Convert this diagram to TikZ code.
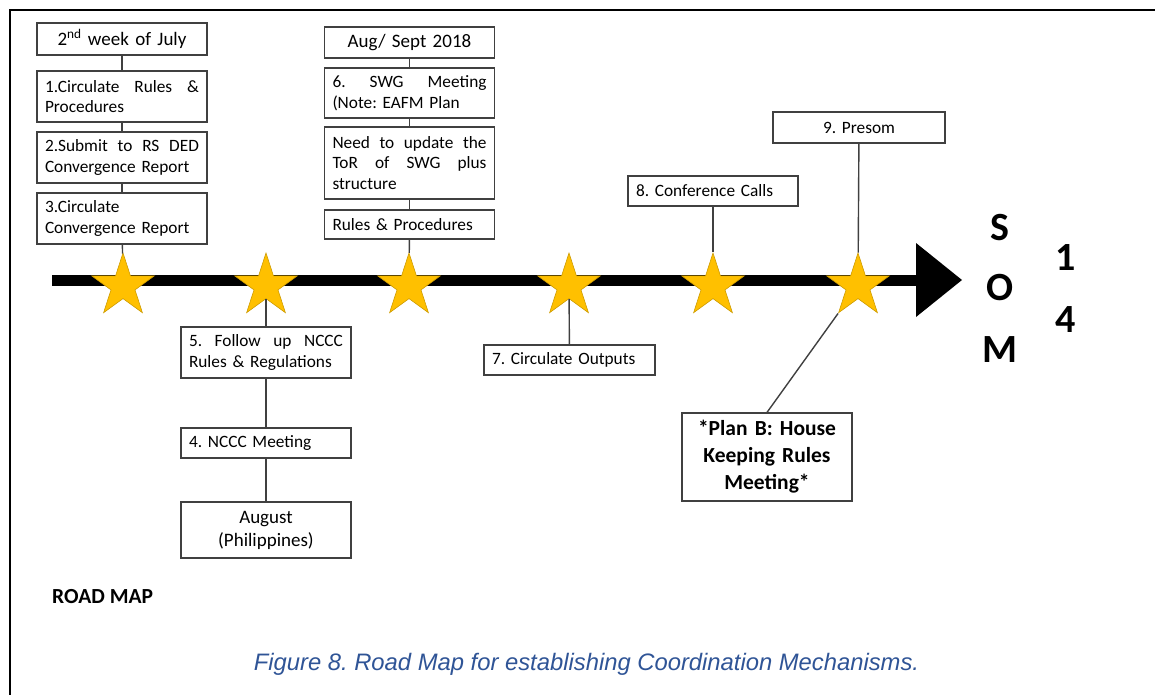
\documentclass[tikz,border=0pt]{standalone}
\usepackage{fontspec}
\setmainfont{Carlito}
\newfontfamily\capfont{Liberation Sans}
\usetikzlibrary{shapes.geometric}
\frenchspacing
\definecolor{boxline}{RGB}{64,64,64}
\definecolor{stargold}{RGB}{255,192,0}
\definecolor{staredge}{RGB}{205,155,0}
\definecolor{capblue}{RGB}{47,84,150}
\newcommand\jl[1]{\makebox[154pt][l]{#1}}
\tikzset{
  box/.style={draw=boxline, line width=1.2pt, rectangle, inner xsep=8pt, inner ysep=0pt,
    text width=154pt, font=\fontsize{17.3}{20.5}\selectfont, align=left, anchor=center},
  cbox/.style={box, align=center},
  conn/.style={draw=boxline, line width=1.4pt},
  goldstar/.style={star, star points=5, star point ratio=2.618, minimum size=66pt, inner sep=0pt,
    fill=stargold, draw=staredge, line width=0.6pt},
  big/.style={font=\fontsize{40}{40}\selectfont\bfseries, inner sep=0pt}
}
\begin{document}
\begin{tikzpicture}[x=1pt,y=-1pt]
\useasboundingbox (0,0) rectangle (1155,695);
% frame
\coordinate (fbl) at (10,695);
\coordinate (ftl) at (10,10);
\coordinate (ftr) at (1155,10);
\draw[line width=2pt] (fbl) -- (ftl) -- (ftr);
% timeline
\coordinate (tl0) at (52,280);
\coordinate (tl1) at (916,280);
\coordinate (ah1) at (916,243);
\coordinate (ah2) at (962,280);
\coordinate (ah3) at (916,317);
\draw[line width=11pt] (tl0) -- (tl1);
\fill (ah1) -- (ah2) -- (ah3) -- cycle;
% stars
\node[goldstar] (s1) at (123,286) {};
\node[goldstar] (s2) at (266,286) {};
\node[goldstar] (s3) at (409,286) {};
\node[goldstar] (s4) at (569,286) {};
\node[goldstar] (s5) at (713,286) {};
\node[goldstar] (s6) at (858,286) {};
% column 1
\node[cbox, minimum height=32pt, font=\fontsize{19}{22}\selectfont] (jul) at (122,39) {2\textsuperscript{nd} week of July};
\node[box, minimum height=51pt] (b1) at (122,96.5) {\jl{1.Circulate\hfill Rules\hfill \&}\\Procedures};
\node[box, minimum height=51pt] (b2) at (122,157.5) {\jl{2.Submit\hfill to\hfill RS\hfill DED}\\Convergence Report};
\node[box, minimum height=51pt] (b3) at (122,218.5) {3.Circulate\\Convergence Report};
\draw[conn] (jul) -- (b1);
\draw[conn] (b1) -- (b2);
\draw[conn] (b2) -- (b3);
\draw[conn] (b3) -- (s1);
% column 3 (top)
\node[cbox, minimum height=31pt, font=\fontsize{19}{22}\selectfont] (aug) at (409.5,42.5) {Aug/ Sept 2018};
\node[box, minimum height=50pt] (b6) at (409.5,93) {\jl{6.\hfill SWG\hfill Meeting}\\(Note: EAFM Plan};
\node[box, minimum height=72pt] (need) at (409.5,163) {\jl{Need\hfill to\hfill update\hfill the}\\\jl{ToR\hfill of\hfill SWG\hfill plus}\\structure};
\node[box, minimum height=29pt] (rp) at (409.5,224.5) {Rules \& Procedures};
\draw[conn] (aug) -- (b6);
\draw[conn] (b6) -- (need);
\draw[conn] (need) -- (rp);
\draw[conn] (rp) -- (s3);
% column 2 (below)
\node[box, minimum height=51pt] (b5) at (266,352.5) {\jl{5.\hfill Follow\hfill up\hfill NCCC}\\Rules \& Regulations};
\node[box, minimum height=30pt] (b4) at (266,443) {4. NCCC Meeting};
\node[cbox, minimum height=56pt, font=\fontsize{19}{23}\selectfont] (augp) at (266,530) {August\\(Philippines)};
\draw[conn] (s2) -- (b5);
\draw[conn] (b5) -- (b4);
\draw[conn] (b4) -- (augp);
% others
\node[box, minimum height=30pt, text width=155pt] (b7) at (569.5,360) {7. Circulate Outputs};
\draw[conn] (s4) -- (b7);
\node[box, minimum height=30pt] (b8) at (713,191) {8. Conference Calls};
\draw[conn] (b8) -- (s5);
\node[cbox, minimum height=31pt, text width=156pt] (b9) at (859,127.5) {9. Presom};
\draw[conn] (b9) -- (s6);
\node[cbox, minimum height=88pt, font=\fontsize{21.5}{27}\selectfont\bfseries] (planb) at (767,457) {*Plan B: House\\Keeping Rules\\Meeting*};
\draw[conn] (s6.outer point 3) -- (planb.north);
% SOM 14
\node[big] (S) at (1000,228) {S};
\node[big] (O) at (1000,288) {O};
\node[big] (M) at (1000,350) {M};
\node[big] (n1) at (1066,258) {1};
\node[big] (n4) at (1066,320) {4};
% labels
\node[anchor=west, inner sep=0pt, font=\fontsize{21.5}{24}\selectfont\bfseries] (rm) at (52,597) {ROAD MAP};
\node[inner sep=0pt, text=capblue, font=\capfont\itshape\fontsize{23.8}{28}\selectfont] (cap) at (586.5,664) {Figure 8. Road Map for establishing Coordination Mechanisms.};
\end{tikzpicture}
\end{document}
